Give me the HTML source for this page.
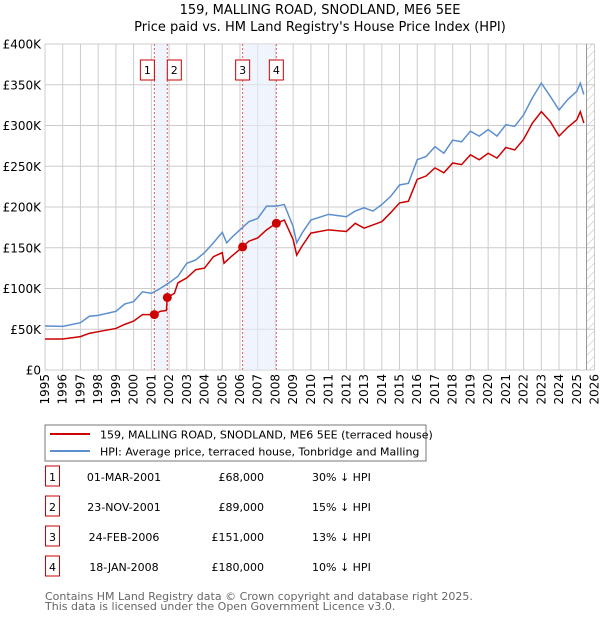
<!DOCTYPE html>
<html><head><meta charset="utf-8">
<style>
body{margin:0;background:#fff;font-family:"Liberation Sans","DejaVu Sans",sans-serif;}
svg text{font-family:"DejaVu Sans","Liberation Sans",sans-serif;}
</style></head>
<body>
<svg id="chart" width="600" height="620" xmlns="http://www.w3.org/2000/svg">
<defs>
<pattern id="hatch" width="6" height="6" patternUnits="userSpaceOnUse" patternTransform="rotate(45)">
<line x1="0" y1="0" x2="0" y2="6" stroke="#bbb" stroke-width="1"/>
</pattern>
</defs>
<text x="320" y="14" text-anchor="middle" font-size="13">159, MALLING ROAD, SNODLAND, ME6 5EE</text>
<text x="320" y="31" text-anchor="middle" font-size="13">Price paid vs. HM Land Registry's House Price Index (HPI)</text>
<g id="grid"></g>
<g id="bands"></g>
<g id="series"></g>
<g id="axes"></g>

<rect x="45" y="425" width="381" height="36" fill="#fff" stroke="#777"/>
<line x1="50" y1="434" x2="90" y2="434" stroke="#cc0000" stroke-width="2"/>
<text x="100" y="438.5" font-size="11">159, MALLING ROAD, SNODLAND, ME6 5EE (terraced house)</text>
<line x1="50" y1="451" x2="90" y2="451" stroke="#5b8fd0" stroke-width="2"/>
<text x="100" y="455.5" font-size="11">HPI: Average price, terraced house, Tonbridge and Malling</text>
<g id="table" font-size="11"></g>
<text x="45" y="600" font-size="11" fill="#666">Contains HM Land Registry data © Crown copyright and database right 2025.</text>
<text x="45" y="610" font-size="11" fill="#666">This data is licensed under the Open Government Licence v3.0.</text>
</svg>
<script>
const years=[1995,1996,1997,1998,1999,2000,2001,2002,2003,2004,2005,2006,2007,2008,2009,2010,2011,2012,2013,2014,2015,2016,2017,2018,2019,2020,2021,2022,2023,2024,2025,2026];
const yTicks=[0,50,100,150,200,250,300,350,400];
const yTickLabels=["£0","£50K","£100K","£150K","£200K","£250K","£300K","£350K","£400K"];
const hpiT=[1995,1996,1997,1997.5,1998,1999,1999.5,2000,2000.5,2001,2001.5,2002,2002.5,2003,2003.5,2004,2004.5,2005,2005.25,2005.5,2006,2006.5,2007,2007.5,2008,2008.5,2009,2009.2,2009.5,2010,2011,2012,2012.5,2013,2013.5,2014,2014.5,2015,2015.5,2016,2016.5,2017,2017.5,2018,2018.5,2019,2019.5,2020,2020.5,2021,2021.5,2022,2022.5,2023,2023.5,2024,2024.5,2025,2025.2,2025.4];
const hpiV=[54,53.5,58,66,67,72,81,84,96,94,100,107,115,131,135,144,156,169,156,162,172,182,186,201,201,203,176,156,168,184,191,188,195,199,195,203,213,227,229,258,262,274,266,282,280,293,287,295,287,301,299,313,334,352,336,319,332,342,352,338];
const priceT=[1995,1996,1997,1997.5,1998,1999,1999.5,2000,2000.5,2001.17,2001.5,2001.85,2001.9,2002.3,2002.5,2003,2003.5,2004,2004.5,2005,2005.1,2005.5,2006.15,2006.5,2007,2007.5,2008.05,2008.5,2009,2009.2,2009.5,2010,2011,2012,2012.5,2013,2014,2014.5,2015,2015.5,2016,2016.5,2017,2017.5,2018,2018.5,2019,2019.5,2020,2020.5,2021,2021.5,2022,2022.5,2023,2023.5,2024,2024.5,2025,2025.2,2025.4];
const priceV=[38,38,41,45,47,51,56,60,68,68,72,73,89,94,107,113,123,125,139,144,131,139,151,158,162,172,180,184,160,141,152,168,172,170,180,174,182,193,205,207,234,238,248,242,254,252,264,258,266,260,273,270,283,303,317,305,287,298,307,317,303];
const saleIds=["1","2","3","4"];
const saleT=[2001.17,2001.9,2006.15,2008.05];
const saleV=[68,89,151,180];
const saleDates=["01-MAR-2001","23-NOV-2001","24-FEB-2006","18-JAN-2008"];
const salePrices=["£68,000","£89,000","£151,000","£180,000"];
const saleDiffs=["30% ↓ HPI","15% ↓ HPI","13% ↓ HPI","10% ↓ HPI"];

const NS="http://www.w3.org/2000/svg";
const X0=45,X1=594.5,Y0=370,Y1=44;
const xs=t=>X0+(t-1995)/(2026-1995)*(X1-X0);
const ys=v=>Y0-v/400*(Y0-Y1);
function mk(tag,attrs,parent){const e=document.createElementNS(NS,tag);for(const k in attrs)e.setAttribute(k,attrs[k]);parent.appendChild(e);return e;}
const grid=document.getElementById('grid'),bands=document.getElementById('bands'),series=document.getElementById('series'),axes=document.getElementById('axes');

years.forEach(y=>{const l=mk('line',{x1:xs(y),x2:xs(y),y1:Y1,y2:Y0,stroke:'#ccc','stroke-width':1},grid);


const t=mk('text',{x:0,y:0,'font-size':12,'text-anchor':'end',transform:`translate(${xs(y)+4},${Y0+4}) rotate(-90)`},axes);
t.textContent=y;

});
yTicks.forEach((v,i)=>{const l=mk('line',{x1:X0,x2:X1,y1:ys(v),y2:ys(v),stroke:'#ccc','stroke-width':1},grid);


const t=mk('text',{x:41,y:ys(v)+4.5,'font-size':12,'text-anchor':'end'},axes);
t.textContent=yTickLabels[i];

});

const h=mk('rect',{x:xs(2025.55),y:Y1,width:X1-xs(2025.55),height:Y0-Y1,fill:'url(#hatch)'},bands);


mk('line',{x1:xs(2025.55),x2:xs(2025.55),y1:Y1,y2:Y0,stroke:'#999'},bands);

[[0,1],[2,3]].forEach(p=>{const r=mk('rect',{x:xs(saleT[p[0]]),y:Y1,width:xs(saleT[p[1]])-xs(saleT[p[0]]),height:Y0-Y1,fill:'#e6edfa','fill-opacity':0.6},bands);

});
saleT.forEach((t,i)=>{const l=mk('line',{x1:xs(t),x2:xs(t),y1:Y1,y2:Y0,stroke:'#e06060','stroke-dasharray':'2,2','stroke-width':1},bands);


const off=i===0?-7:(i===1?7:0);
const cx=xs(t)+off;
const r=mk('rect',{x:cx-7,y:60,width:14,height:20,fill:'#fff',stroke:'#cc0000'},bands);


const tx=mk('text',{x:cx,y:74,'font-size':11,'text-anchor':'middle'},bands);
tx.textContent=saleIds[i];

});

const hp=mk('polyline',{points:hpiT.map((t,i)=>xs(t)+','+ys(hpiV[i])).join(' '),fill:'none',stroke:'#5b8fd0','stroke-width':1.5},series);


const pp=mk('polyline',{points:priceT.map((t,i)=>xs(t)+','+ys(priceV[i])).join(' '),fill:'none',stroke:'#cc0000','stroke-width':1.5},series);


saleT.forEach((t,i)=>{const c=mk('circle',{cx:xs(t),cy:ys(saleV[i]),r:4.5,fill:'#cc0000'},series);

});

const tb=document.getElementById('table');
saleIds.forEach((id,i)=>{const y=483+30*i;
const r=mk('rect',{x:45.5,y:y-17,width:14,height:20,fill:'#fff',stroke:'#cc0000'},tb);


const a=mk('text',{x:52.5,y:y-2,'text-anchor':'middle'},tb);a.textContent=id;


const d=mk('text',{x:124,y:y-2,'text-anchor':'middle'},tb);d.textContent=saleDates[i];


const p=mk('text',{x:264,y:y-2,'text-anchor':'end'},tb);p.textContent=salePrices[i];


const f=mk('text',{x:312,y:y-2},tb);f.textContent=saleDiffs[i];

});
</script>
</body></html>
